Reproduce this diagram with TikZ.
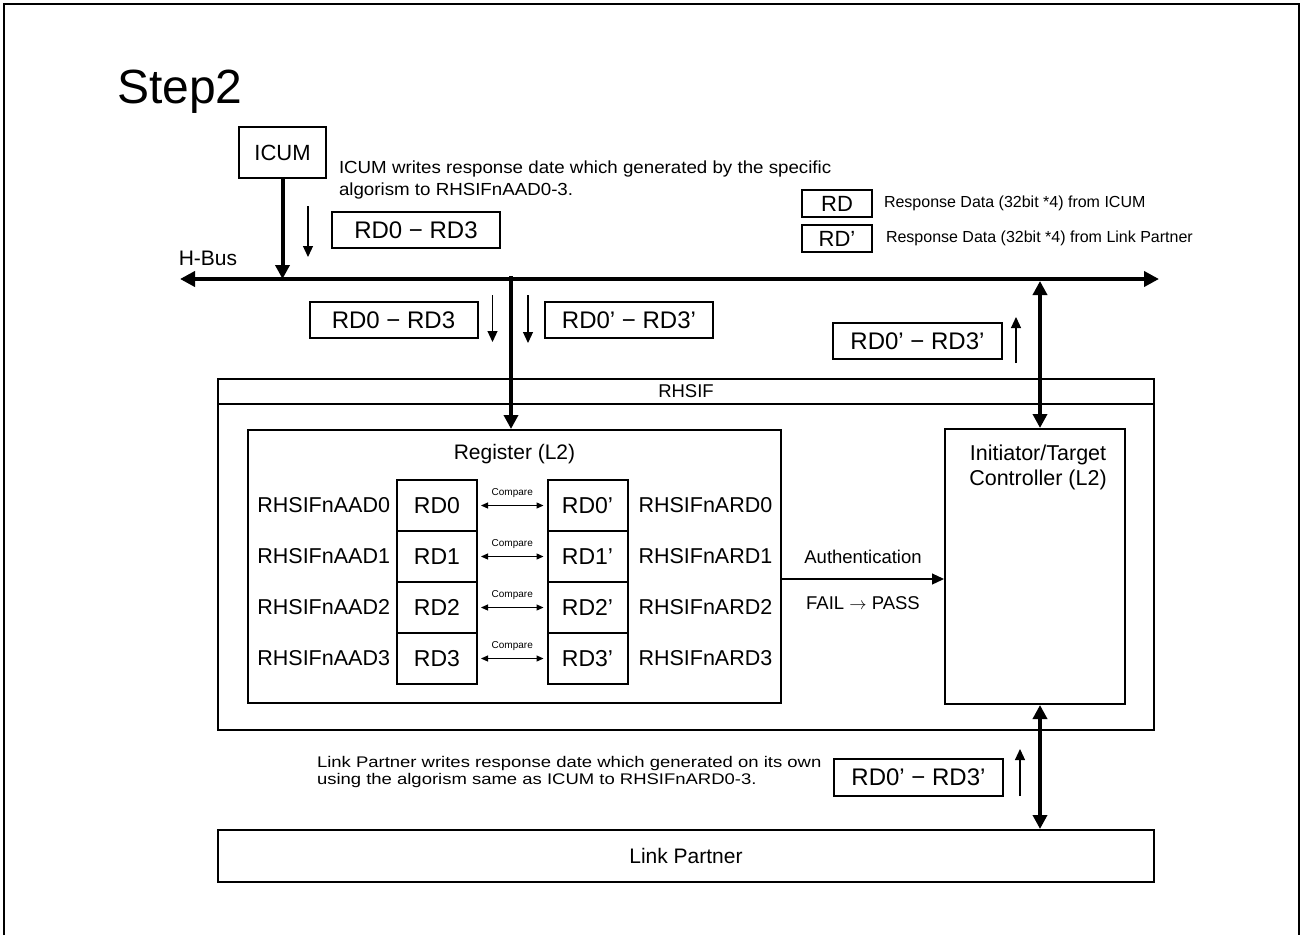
\documentclass[tikz,border=0pt]{standalone}
\usepackage{fontspec}
\setmainfont{Liberation Sans}
\newfontfamily\rhicumfont{Liberation Sans}[FakeStretch=1.07]
\newfontfamily\rhwidefont{Liberation Sans}[FakeStretch=1.2]
\usetikzlibrary{positioning,arrows.meta}
\tikzset{every picture/.style={line width=2pt}}
\tikzset{
  rhbox/.style  ={rectangle, draw=black, line width=2pt, inner sep=0pt, font=\fontsize{24}{28}\selectfont},
  rhdata/.style ={rhbox, minimum width=168, minimum height=36},
  rhcell/.style ={rhbox, minimum width=80, minimum height=51, font=\fontsize{23}{27}\selectfont},
  rhtxt/.style  ={inner sep=0pt, font=\fontsize{18.5}{22}\selectfont},
  rhreg/.style  ={inner sep=0pt, font=\fontsize{21.5}{25}\selectfont},
  rhbus/.style  ={line width=4pt},
  rhto/.style   ={rhbus, -{Triangle[length=14pt,width=14pt]}},
  rhboth/.style ={rhbus, {Triangle[length=14pt,width=14pt]}-{Triangle[length=14pt,width=14pt]}},
  rhflow/.style ={line width=1.2pt, -{Triangle[length=11pt,width=10pt]}},
  rhcmp/.style  ={line width=1.2pt, {Triangle[length=7pt,width=6pt]}-{Triangle[length=7pt,width=6pt]}},
}

\begin{document}
\begin{tikzpicture}[x=1pt, y=-1pt]
  \useasboundingbox (0,0) rectangle (1301,935);
  \draw (4,935) -- (4,4) -- (1299,4) -- (1299,935);

  \node[anchor=base west, inner sep=0pt, font=\fontsize{48}{56}\selectfont] (title) at (116,103) {Step2};

  % ICUM and H-Bus
  \node[rhbox, minimum width=87, minimum height=51, font=\fontsize{22}{26}\selectfont] (icum) at (282.5,152.5) {ICUM};
  \node[rhtxt, anchor=west, align=left, font=\rhicumfont\fontsize{17.5}{22}\selectfont] (icumtxt) at (338,180)
    {ICUM writes response date which generated by the specific\\algorism to RHSIFnAAD0-3.};
  \node[rhtxt, font=\fontsize{21}{24}\selectfont] (hbus) at (208,258) {H-Bus};
  \coordinate (busW) at (180,279);
  \coordinate (busE) at (1159,279);
  \draw[rhbus, {Triangle[length=15pt,width=15pt]}-{Triangle[length=15pt,width=15pt]}] (busW) -- (busE);
  \draw[rhto] (icum.south) -- (icum.south |- busW);

  \node[rhdata] (rdI) at (416,230) {RD0 − RD3};
  \draw[rhflow] ([xshift=-23pt,yshift=5pt]rdI.north west) -- ([xshift=-23pt,yshift=-8pt]rdI.south west);

  % legend
  \node[rhbox, minimum width=70, minimum height=27, font=\fontsize{22}{26}\selectfont] (lgI) at (837,203.5) {RD};
  \node[rhbox, minimum width=70, minimum height=27, font=\fontsize{22}{26}\selectfont] (lgP) at (837,238.5) {RD’};
  \node[rhtxt, font=\fontsize{16}{19}\selectfont, right=10pt of lgI] (lgItxt) {Response Data (32bit *4) from ICUM};
  \node[rhtxt, font=\fontsize{16}{19}\selectfont, right=12pt of lgP] (lgPtxt) {Response Data (32bit *4) from Link Partner};

  % RHSIF
  \node[rhbox, minimum width=936, minimum height=25, font=\fontsize{18.5}{22}\selectfont] (rhsifH) at (686,391.5) {RHSIF};
  \node[rhbox, minimum width=936, minimum height=326] (rhsif) at (686,567) {};
  \node[rhbox, minimum width=533, minimum height=273] (reg) at (514.5,566.5) {};
  \node[rhtxt, font=\fontsize{21}{24}\selectfont] (regT) at ([yshift=-25pt]reg.north) {Register (L2)};
  \node[rhbox, minimum width=180, minimum height=275] (ctl) at (1035,566.5) {};
  \node[rhtxt, font=\fontsize{21.5}{25}\selectfont, align=center, anchor=north] (ctlT) at ([xshift=3pt,yshift=-16pt]ctl.north)
    {Initiator/Target\\Controller (L2)};

  \coordinate (tapR) at (511,276);
  \draw[rhto] (tapR) -- (tapR |- reg.north);
  \node[rhdata] (rdA) at (393.5,320) {RD0 − RD3};
  \node[rhdata] (rdB) at (629,320) {RD0’ − RD3’};
  \draw[rhflow] ([xshift=14pt,yshift=6pt]rdA.north east) -- ([xshift=14pt,yshift=-3pt]rdA.south east);
  \draw[rhflow] ([xshift=-16pt,yshift=6pt]rdB.north west) -- ([xshift=-16pt,yshift=-4pt]rdB.south west);

  \coordinate (tapC) at (1040,281);
  \draw[rhboth] (tapC) -- (tapC |- ctl.north);
  \node[rhdata, minimum width=169] (rdC) at (917.5,341) {RD0’ − RD3’};
  \draw[rhflow] ([xshift=13pt,yshift=-3pt]rdC.south east) -- ([xshift=13pt,yshift=5pt]rdC.north east);

  % register cells
  \foreach \i in {0,...,3}{
    \node[rhcell] (aad\i) at (437,505.5+51*\i) {RD\i};
    \node[rhcell] (ard\i) at (587.5,505.5+51*\i) {RD\i’};
    \node[rhreg, left=5pt of aad\i] (aadL\i) {RHSIFnAAD\i};
    \node[rhreg, right=9pt of ard\i] (ardL\i) {RHSIFnARD\i};
    \draw[rhcmp] ([xshift=3pt]aad\i.east) -- node[above=7pt, inner sep=0pt, font=\fontsize{10}{12}\selectfont] (cmp\i) {Compare} ([xshift=-3pt]ard\i.west);
  }

  \draw[line width=1.2pt, -{Triangle[length=12pt,width=11pt]}] ([yshift=-12.5pt]reg.east) --
    node[rhtxt, above=15pt] (auth) {Authentication}
    node[rhtxt, below=17pt] (pass) {FAIL $\rightarrow$ PASS} ([yshift=-12.5pt]ctl.west);

  % Link Partner
  \node[rhbox, minimum width=936, minimum height=52, font=\fontsize{21}{24}\selectfont] (lp) at (686,856) {Link Partner};
  \draw[rhboth] (tapC |- ctl.south) -- (tapC |- lp.north);
  \node[rhtxt, anchor=west, align=left, font=\rhwidefont\fontsize{15.4}{17.7}\selectfont] (lptxt) at (316,772)
    {Link Partner writes response date which generated on its own\\using the algorism same as ICUM to RHSIFnARD0-3.};
  \node[rhdata, minimum width=169, minimum height=37] (rdD) at (918.5,777.5) {RD0’ − RD3’};
  \draw[rhflow] ([xshift=16pt,yshift=1pt]rdD.south east) -- ([xshift=16pt,yshift=9pt]rdD.north east);
\end{tikzpicture}
\end{document}
